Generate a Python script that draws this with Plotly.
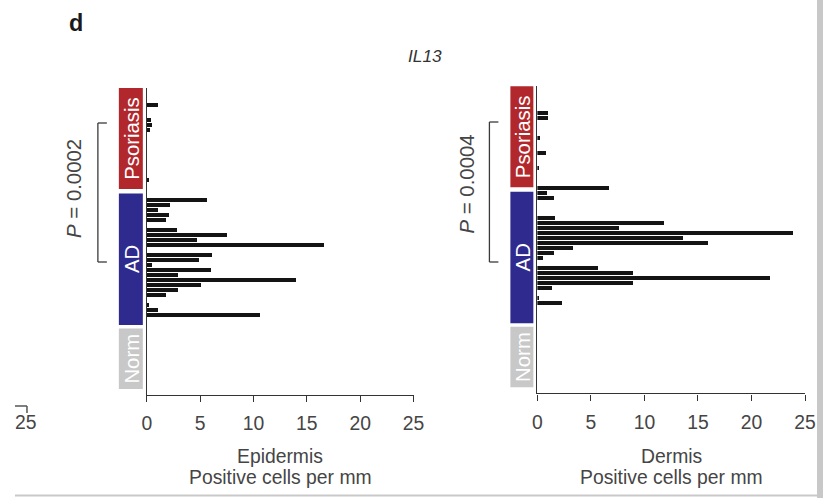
import plotly.graph_objects as go

W, H = 823, 498          # reference pixel grid
# the photographed page comes out slightly shrunk horizontally; compensate
SX, OX = 0.982, 4.0
FIG_W = round((W - OX) / SX)
FIG_H = H

groups = ["Psoriasis", "AD", "Norm"]
group_colors = ["#b2272c", "#2f2a8e", "#c8c8c8"]
rows_psoriasis = list(range(61, 41, -1))   # 20 samples
rows_ad = list(range(41, 14, -1))          # 27 samples
rows_norm = list(range(14, 0, -1))         # 14 samples
group_spans = [(41.2, 61.6), (14.0, 40.3), (1.2, 13.3)]

epi_psoriasis = [0, 0, 0, 1.0, 0, 0, 0.4, 0.5, 0.3, 0, 0, 0, 0, 0, 0, 0, 0, 0, 0.2, 0]
epi_ad = [0, 0, 5.6, 2.2, 1.0, 2.1, 1.8, 0, 2.8, 7.5, 4.7, 16.6, 0, 6.1, 4.9, 0.5,
          6.0, 2.9, 14.0, 5.1, 2.9, 1.8, 0, 0.2, 1.0, 10.6, 0]
epi_norm = [0] * 14

derm_psoriasis = [0, 0, 0, 0, 0, 1.0, 1.0, 0, 0, 0, 0.25, 0, 0, 0.8, 0, 0, 0.1, 0, 0, 0]
derm_ad = [6.7, 0.9, 1.6, 0, 0, 0, 1.7, 11.9, 7.7, 23.9, 13.6, 16.0, 3.4, 1.6, 0.6, 0,
           5.7, 9.0, 21.8, 9.0, 1.4, 0, 0.2, 2.3, 0, 0, 0]
derm_norm = [0] * 14

x_ticks = [0, 5, 10, 15, 20, 25]
panel_titles = ["Epidermis", "Dermis"]
p_values = ["0.0002", "0.0004"]
gene = "IL13"

def px(x):
    return ((x - OX) / SX) / FIG_W

def py(y):
    return 1 - y / FIG_H

def fs(size):
    return size / SX

FONT = "Liberation Sans, Arial, Helvetica, sans-serif"
AXC = "#333333"
TXT = "#454545"

def note(x, y, text, size, color=TXT, angle=0, xref="paper", yref="paper"):
    return dict(xref=xref, yref=yref, x=x, y=y, text=text, textangle=angle,
                showarrow=False, xanchor="center", yanchor="middle",
                font=dict(family=FONT, size=fs(size), color=color))

panels = [
    dict(x0=146, x1=413, y0=395, y1=88, ax="x", ay="y",
         vals=[epi_psoriasis, epi_ad, epi_norm], box=(118, 142),
         br_x=97, br_top=123, br_bot=262, p_x=73, p_y=188),
    dict(x0=537, x1=805, y0=393.3, y1=86.3, ax="x2", ay="y2",
         vals=[derm_psoriasis, derm_ad, derm_norm], box=(510, 533),
         br_x=489, br_top=122, br_bot=262, p_x=467, p_y=184),
]
all_rows = [rows_psoriasis, rows_ad, rows_norm]

fig = go.Figure()
shapes = []
annotations = []

for i, p in enumerate(panels):
    xs, ys = [], []
    for r, v in zip(all_rows, p["vals"]):
        xs += v
        ys += r
    fig.add_trace(go.Bar(
        x=xs, y=ys, orientation="h", width=0.68,
        marker=dict(color="#141414", line=dict(width=0)),
        xaxis=p["ax"], yaxis=p["ay"], showlegend=False, hoverinfo="x+y"))

    xa = "xaxis" if i == 0 else "xaxis2"
    ya = "yaxis" if i == 0 else "yaxis2"
    fig.layout[xa] = dict(
        domain=[px(p["x0"]), px(p["x1"])], range=[0, 25], anchor=p["ay"],
        tickvals=x_ticks, ticks="outside", ticklen=6, tickwidth=1.3, tickcolor=AXC,
        showline=True, linecolor=AXC, linewidth=1.4, showgrid=False, zeroline=False,
        tickfont=dict(family=FONT, size=fs(19), color=TXT), ticklabelstandoff=5,
        fixedrange=True)
    fig.layout[ya] = dict(
        domain=[py(p["y0"]), py(p["y1"])], range=[0, 61.4], anchor=p["ax"],
        showline=True, linecolor=AXC, linewidth=1.4, showgrid=False, zeroline=False,
        showticklabels=False, ticks="", fixedrange=True)

    # group label boxes
    yref = "y" if i == 0 else "y2"
    for g, c, (a, b) in zip(groups, group_colors, group_spans):
        shapes.append(dict(type="rect", xref="paper", yref=yref,
                           x0=px(p["box"][0]), x1=px(p["box"][1]), y0=a, y1=b,
                           fillcolor=c, line=dict(width=0), layer="below"))
        annotations.append(note(px((p["box"][0] + p["box"][1]) / 2 + 1), (a + b) / 2,
                                g, 20, color="white", angle=-90, yref=yref))

    # axis titles
    cx = (p["x0"] + p["x1"]) / 2
    annotations.append(note(px(cx), py(456), panel_titles[i], 19))
    annotations.append(note(px(cx), py(477), "Positive cells per mm", 19))

    # significance bracket
    bx, bt, bb = p["br_x"], p["br_top"], p["br_bot"]
    for (xa0, ya0, xa1, ya1) in [(bx, bt, bx, bb), (bx, bt, bx + 9, bt), (bx, bb, bx + 9, bb)]:
        shapes.append(dict(type="line", xref="paper", yref="paper",
                           x0=px(xa0), y0=py(ya0), x1=px(xa1), y1=py(ya1),
                           line=dict(color="#3a3a3a", width=1.3)))
    annotations.append(note(px(p["p_x"]), py(p["p_y"]), "<i>P</i> = " + p_values[i],
                            20, angle=-90))

# panel letter and gene name
annotations.append(note(px(75), py(23), "<b>d</b>", 23, color="#1a1a1a"))
annotations.append(note(px(425), py(56), "<i>" + gene + "</i>", 17, color="#333333"))

# cropped fragment of a neighbouring panel at the far left
shapes.append(dict(type="line", xref="paper", yref="paper", x0=px(14), y0=py(406),
                   x1=px(26), y1=py(406), line=dict(color="#555", width=1.5)))
shapes.append(dict(type="line", xref="paper", yref="paper", x0=px(26), y0=py(406),
                   x1=px(26), y1=py(413), line=dict(color="#555", width=1.5)))
annotations.append(note(px(25), py(422), "25", 19))

# page border elements
shapes.append(dict(type="line", xref="paper", yref="paper", x0=px(14), y0=py(495.5),
                   x1=px(817), y1=py(495.5), line=dict(color="#c9c9c9", width=2),
                   layer="above"))
shapes.append(dict(type="rect", xref="paper", yref="paper", x0=px(817), y0=0,
                   x1=1, y1=1, fillcolor="#c8c8c8", line=dict(width=0), layer="above"))

fig.update_layout(
    width=FIG_W, height=FIG_H, autosize=False,
    margin=dict(l=0, r=0, t=0, b=0),
    paper_bgcolor="white", plot_bgcolor="white",
    shapes=shapes, annotations=annotations,
    bargap=0, showlegend=False,
)

fig.write_html("out.html", config={"displayModeBar": False},
               post_script="document.body.style.margin='0px';document.body.style.overflow='hidden';")
